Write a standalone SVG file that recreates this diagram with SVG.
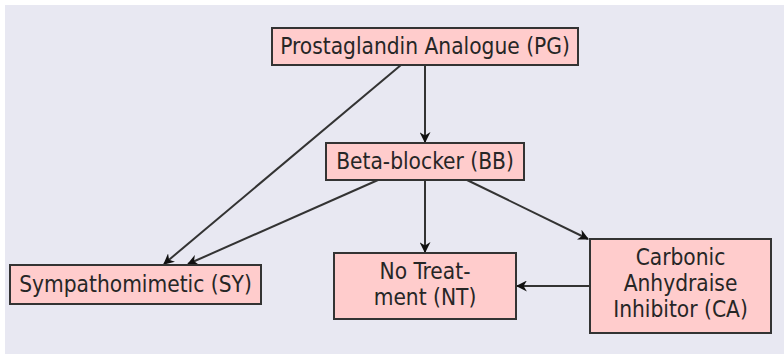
<svg xmlns="http://www.w3.org/2000/svg" width="784" height="354" viewBox="0 0 784 354">
<defs>
<style>
.node rect{fill:#ffcccc;stroke:#333333;stroke-width:2}
.node text{font-family:"DejaVu Sans Condensed","Liberation Sans",sans-serif;font-size:22.5px;fill:#262626;text-anchor:middle}
.edges line{stroke:#333333;stroke-width:2;marker-end:url(#arr)}
</style>
<marker id="arr" viewBox="0 0 10 10" refX="9" refY="5" markerWidth="5.5" markerHeight="5.5" orient="auto" markerUnits="strokeWidth">
<path d="M0,0 L10,5 L0,10 L3,5 z" fill="#111111"/>
</marker>
</defs>
<rect x="0" y="0" width="784" height="354" fill="#ffffff"/>
<rect x="5" y="5" width="779" height="349" fill="#e8e8f2"/>
<g class="edges">
<line x1="425" y1="65" x2="425" y2="142"/>
<line x1="401" y1="65" x2="164" y2="264"/>
<line x1="378" y1="180" x2="188" y2="264"/>
<line x1="425" y1="180" x2="425" y2="252"/>
<line x1="467" y1="180" x2="588" y2="239"/>
<line x1="590" y1="286" x2="517" y2="286"/>
</g>
<g id="PG" class="node">
<rect x="272" y="28" width="306" height="37"/>
<text x="425" y="54">Prostaglandin Analogue (PG)</text>
</g>
<g id="BB" class="node">
<rect x="326" y="143" width="198" height="37"/>
<text x="425" y="169">Beta-blocker (BB)</text>
</g>
<g id="SY" class="node">
<rect x="10" y="265" width="251" height="39"/>
<text x="135.5" y="292">Sympathomimetic (SY)</text>
</g>
<g id="NT" class="node">
<rect x="334" y="253" width="182" height="66"/>
<text x="425" y="279">No Treat-</text>
<text x="425" y="305">ment (NT)</text>
</g>
<g id="CA" class="node">
<rect x="590" y="239" width="181" height="94"/>
<text x="680.5" y="265">Carbonic</text>
<text x="680.5" y="291">Anhydraise</text>
<text x="680.5" y="317">Inhibitor (CA)</text>
</g>
</svg>
